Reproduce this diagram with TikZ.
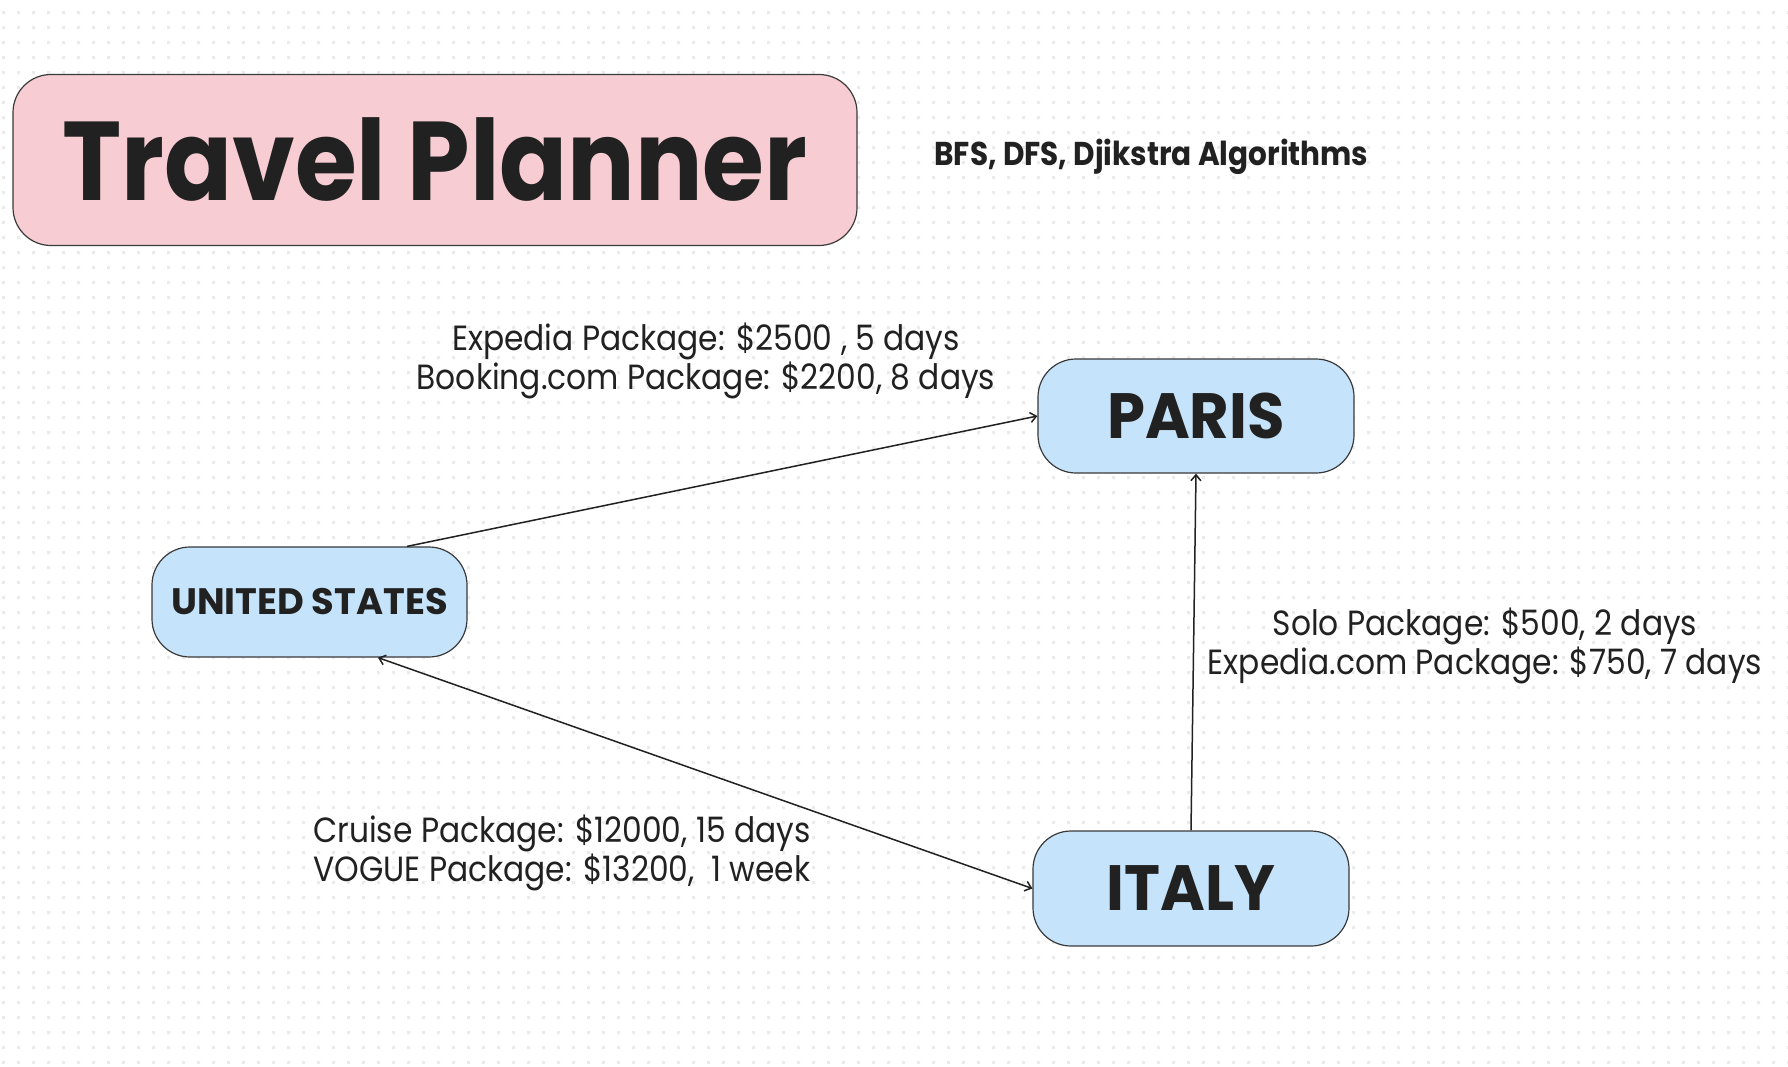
\documentclass[tikz,border=0pt]{standalone}
\usepackage{fontspec}
\setmainfont{Poppins}
\newfontfamily\narrowfont[FakeStretch=0.895]{Poppins}
\newfontfamily\cityfont[FakeStretch=0.95]{Poppins}
\usetikzlibrary{arrows.meta,calc}
\definecolor{pinkfill}{HTML}{F7CDD3}
\definecolor{bluefill}{HTML}{C5E3FA}
\definecolor{ink}{HTML}{212121}
\definecolor{edgegray}{HTML}{3A3A3A}
\definecolor{dotgray}{HTML}{EBEBEB}
\begin{document}
\begin{tikzpicture}[x=0.5pt,y=-0.5pt,
  >={Straight Barb[length=3pt,width=5pt]},
  titlebox/.style={draw=edgegray, line width=0.6pt, fill=pinkfill, rounded corners=19pt,
    text=ink, font=\narrowfont\fontsize{56}{60}\selectfont\bfseries, minimum width=422pt, minimum height=85.5pt},
  city/.style={draw=edgegray, line width=0.6pt, fill=bluefill, rounded corners=19pt,
    text=ink, minimum width=158pt, minimum height=57pt},
  bigcity/.style={city, font=\cityfont\fontsize{32}{34}\selectfont\bfseries},
  smallcity/.style={city, font=\fontsize{18.4}{20}\selectfont\bfseries},
  lbl/.style={text=ink, inner sep=0pt, align=center, font=\narrowfont\fontsize{17.5}{19.5}\selectfont},
  sub/.style={text=ink, inner sep=0pt, font=\narrowfont\fontsize{16.5}{18}\selectfont\bfseries},
  link/.style={draw=ink, line width=0.75pt}]
\useasboundingbox (0,0) rectangle (1788,1066);
\fill[white] (0,0) rectangle (1788,1066);
\foreach \j in {0,...,70} {
  \fill[dotgray] \foreach \i in {0,...,119} { ({2+15*\i},{11+15*\j}) rectangle ++(3,3) };
}

\node[titlebox] (title) at (435,160) {Travel Planner};
\node[sub] (algos) at (1151.5,156.5) {BFS, DFS, Djikstra Algorithms};

\node[bigcity] (paris) at (1196,416) {PARIS};
\node[smallcity, minimum width=157.5pt, minimum height=55pt] (us) at (309.5,602) {UNITED STATES};
\node[bigcity, minimum height=57.5pt] (italy) at (1191,888.5) {ITALY};

\node[lbl] (l1) at (706,361) {Expedia Package: \$2500 , 5 days\\Booking.com Package: \$2200, 8 days};
\node[lbl] (l2) at (1485,646) {Solo Package: \$500, 2 days\\Expedia.com Package: \$750, 7 days};
\node[lbl] (l3) at (562,853) {Cruise Package: \$12000, 15 days\\VOGUE Package: \$13200,\ \ 1 week};

\draw[link,->] ($(us.north)+(97.5,0)$) -- (paris.west);
\draw[link,->] (italy.north) -- (paris.south);
\draw[link,<->] ($(us.south)+(68.5,0)$) -- (italy.west);
\end{tikzpicture}
\end{document}
